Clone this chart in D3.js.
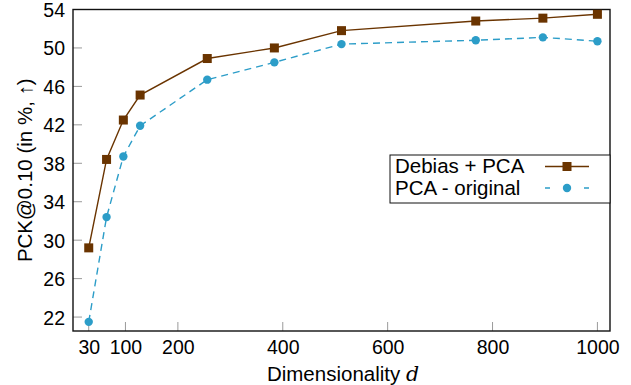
<!DOCTYPE html>
<html><head><meta charset="utf-8">
<script src="https://cdn.jsdelivr.net/npm/d3@7"></script>
<style>body{margin:0;background:#fff}svg{display:block}text{font-family:"Liberation Sans",Arial,sans-serif}</style>
</head><body>
<script>
const dims = [30, 64, 96, 128, 256, 384, 512, 768, 896, 1000];
const debiasPCA = [29.2, 38.4, 42.5, 45.1, 48.9, 50.0, 51.8, 52.8, 53.1, 53.5];
const pcaOriginal = [21.5, 32.4, 38.7, 41.9, 46.7, 48.5, 50.4, 50.8, 51.1, 50.7];
const xTicks = [30, 100, 200, 400, 600, 800, 1000];
const yTicks = [22, 26, 30, 34, 38, 42, 46, 50, 54];
const seriesNames = ["Debias + PCA", "PCA - original"];

const W = 631, H = 385;
const L = 73, R = 610, T = 9.5, B = 331;
const brown = "#6a3400", blue = "#2c9dc8";
const tickFs = 19.5, labFs = 20.5;

const svg = d3.select("body").append("svg").attr("width", W).attr("height", H);
const x = d3.scaleLinear().domain([0, 1024]).range([L, R]);
const y = d3.scaleLinear().domain([20.55, 54]).range([B, T]);

const xa = svg.append("g").attr("transform", `translate(0,${B})`)
  .call(d3.axisBottom(x).tickValues(xTicks).tickSize(0).tickPadding(9).tickFormat(d3.format("d")));
xa.select(".domain").remove();
xa.selectAll("text").attr("font-size", tickFs).attr("fill", "#000");
svg.append("g").selectAll("line").data(xTicks).join("line")
  .attr("x1", d => x(d)).attr("x2", d => x(d)).attr("y1", B).attr("y2", B - 9)
  .attr("stroke", "#9a9a9a").attr("stroke-width", 1);

const ya = svg.append("g").attr("transform", `translate(${L},0)`)
  .call(d3.axisLeft(y).tickValues(yTicks).tickSize(0).tickPadding(8));
ya.select(".domain").remove();
ya.selectAll("text").attr("font-size", tickFs).attr("fill", "#000").attr("dy", "0.36em");
svg.append("g").selectAll("line").data(yTicks).join("line")
  .attr("x1", L).attr("x2", L + 9).attr("y1", d => y(d)).attr("y2", d => y(d))
  .attr("stroke", "#9a9a9a").attr("stroke-width", 1);

svg.append("rect").attr("x", L).attr("y", T).attr("width", R - L).attr("height", B - T)
  .attr("fill", "none").attr("stroke", "#111").attr("stroke-width", 1.4);

const line = d3.line().x((d, i) => x(dims[i])).y(d => y(d));

svg.append("path").datum(pcaOriginal).attr("d", line).attr("fill", "none")
  .attr("stroke", blue).attr("stroke-width", 1.4).attr("stroke-dasharray", "7,5");
svg.append("g").selectAll("circle").data(pcaOriginal).join("circle")
  .attr("cx", (d, i) => x(dims[i])).attr("cy", d => y(d)).attr("r", 4.2).attr("fill", blue);

svg.append("path").datum(debiasPCA).attr("d", line).attr("fill", "none")
  .attr("stroke", brown).attr("stroke-width", 1.4);
const s = 9;
svg.append("g").selectAll("rect").data(debiasPCA).join("rect")
  .attr("x", (d, i) => x(dims[i]) - s / 2).attr("y", d => y(d) - s / 2)
  .attr("width", s).attr("height", s).attr("fill", brown);

const lg = svg.append("g");
lg.append("rect").attr("x", 390).attr("y", 155).attr("width", 220).attr("height", 48)
  .attr("fill", "#fff").attr("stroke", "#111").attr("stroke-width", 1);
lg.append("text").attr("x", 395).attr("y", 173).attr("font-size", labFs).text(seriesNames[0]);
lg.append("text").attr("x", 395).attr("y", 194.5).attr("font-size", labFs).text(seriesNames[1]);
lg.append("line").attr("x1", 545).attr("x2", 589).attr("y1", 166.5).attr("y2", 166.5)
  .attr("stroke", brown).attr("stroke-width", 1.4);
lg.append("rect").attr("x", 567 - s / 2).attr("y", 166.5 - s / 2).attr("width", s).attr("height", s).attr("fill", brown);
lg.append("line").attr("x1", 545).attr("x2", 589).attr("y1", 188).attr("y2", 188)
  .attr("stroke", blue).attr("stroke-width", 1.4).attr("stroke-dasharray", "5,34");
lg.append("circle").attr("cx", 567).attr("cy", 188).attr("r", 4.2).attr("fill", blue);

const xl = svg.append("text").attr("x", 343).attr("y", 381).attr("text-anchor", "middle").attr("font-size", labFs);
xl.append("tspan").text("Dimensionality ");
xl.append("tspan").attr("font-family", "'DejaVu Serif','Liberation Serif',serif").attr("font-style", "italic").text("d");

svg.append("text").attr("transform", `translate(32,${(T + B) / 2}) rotate(-90)`)
  .attr("text-anchor", "middle").attr("font-size", labFs).text("PCK@0.10 (in %, \u2191)");
</script>
</body></html>
